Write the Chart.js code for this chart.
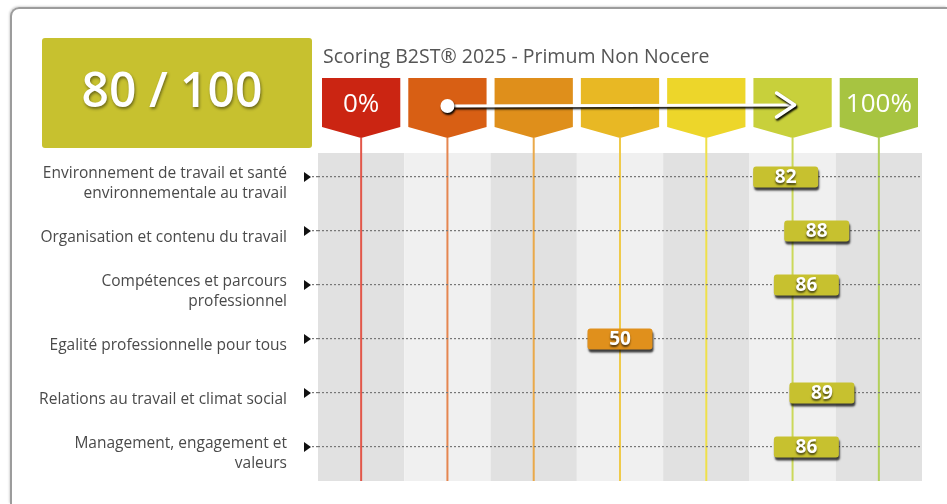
<!DOCTYPE html>
<html>
<head>
<meta charset="utf-8">
<script src="https://cdn.jsdelivr.net/npm/chart.js@4.4.0/dist/chart.umd.min.js"></script>
<style>
html, body { margin: 0; padding: 0; background: #fff; overflow: hidden; }
#frame { position: absolute; left: 10px; top: 7px; right: 0; bottom: 0; border: 2px solid #9c9c9c; border-right: none; border-bottom: none; border-top-left-radius: 9px; box-shadow: -1px -1px 2px rgba(0,0,0,.15); }
#score-chart { position: absolute; left: 0; top: 0; }
</style>
</head>
<body>
<div id="frame"></div>
<canvas id="score-chart" width="947" height="504"></canvas>
<script>
const chartTitle = 'Scoring B2ST® 2025 - Primum Non Nocere';
const overallScore = 80;
const maxScore = 100;
const categories = [
    ['Environnement de travail et santé', 'environnementale au travail'],
    'Organisation et contenu du travail',
    ['Compétences et parcours', 'professionnel'],
    'Egalité professionnelle pour tous',
    'Relations au travail et climat social',
    ['Management, engagement et', 'valeurs']
];
const scores = [82, 88, 86, 50, 89, 86];
const bandLabels = ['0%', '', '', '', '', '', '100%'];

// header and line colours, red -> green
const headerColors = ['#cb2512', '#d85f14', '#df8f1b', '#e8b824', '#edd62a', '#c8d03b', '#a7c441'];
const lineColors = ['#e2574a', '#e58650', '#eaa94a', '#efca4a', '#efe04a', '#cbd85a', '#b2d05a'];
const FONT = 'Open Sans';
const bandStep = 100 / (bandLabels.length - 1);

function scoreColor(v) {
    return v >= 60 ? '#c7c12f' : '#e0901c';
}

function roundRect(ctx, x, y, w, h, r) {
    ctx.beginPath();
    ctx.moveTo(x + r, y);
    ctx.lineTo(x + w - r, y);
    ctx.quadraticCurveTo(x + w, y, x + w, y + r);
    ctx.lineTo(x + w, y + h - r);
    ctx.quadraticCurveTo(x + w, y + h, x + w - r, y + h);
    ctx.lineTo(x + r, y + h);
    ctx.quadraticCurveTo(x, y + h, x, y + h - r);
    ctx.lineTo(x, y + r);
    ctx.quadraticCurveTo(x, y, x + r, y);
    ctx.closePath();
}

const scoringPlugin = {
    id: 'scoring',
    beforeDraw(chart) {
        const { ctx, chartArea: area, scales: { x } } = chart;
        ctx.save();

        // big score box
        ctx.fillStyle = scoreColor(overallScore);
        roundRect(ctx, 42, 38, 270, 110, 3);
        ctx.fill();
        ctx.font = '600 48px "' + FONT + '"';
        ctx.fillStyle = '#fff';
        ctx.textAlign = 'center';
        ctx.textBaseline = 'middle';
        ctx.shadowColor = 'rgba(0,0,0,0.45)';
        ctx.shadowBlur = 3;
        ctx.shadowOffsetX = 1;
        ctx.shadowOffsetY = 2;
        ctx.fillText(overallScore + ' / ' + maxScore, 172, 93);
        ctx.shadowColor = 'transparent';

        // title
        ctx.font = '19.5px "' + FONT + '"';
        ctx.fillStyle = '#555';
        ctx.textAlign = 'left';
        ctx.fillText(chartTitle, 323, 57);

        const half = (x.getPixelForValue(bandStep) - x.getPixelForValue(0)) / 2;

        // stripes
        bandLabels.forEach((_, i) => {
            const cx = x.getPixelForValue(i * bandStep);
            ctx.fillStyle = i % 2 ? '#f0f0f0' : '#e1e1e1';
            ctx.fillRect(cx - half, area.top + 3, half * 2, area.bottom + 7 - area.top - 3);
        });

        // vertical lines and headers
        bandLabels.forEach((_, i) => {
            const cx = x.getPixelForValue(i * bandStep);
            ctx.strokeStyle = lineColors[i];
            ctx.lineWidth = 2;
            ctx.beginPath();
            ctx.moveTo(cx, area.top - 12);
            ctx.lineTo(cx, area.bottom + 7);
            ctx.stroke();

            const hw = half - 4;
            ctx.fillStyle = headerColors[i];
            ctx.beginPath();
            ctx.moveTo(cx - hw, area.top - 72);
            ctx.lineTo(cx + hw, area.top - 72);
            ctx.lineTo(cx + hw, area.top - 23);
            ctx.lineTo(cx, area.top - 12);
            ctx.lineTo(cx - hw, area.top - 23);
            ctx.closePath();
            ctx.fill();
        });

        // arrow across the headers
        const ay = area.top - 44;
        const x0 = x.getPixelForValue(bandStep);
        const x1 = x.getPixelForValue(5 * bandStep) + 2;
        ctx.shadowColor = 'rgba(0,0,0,0.95)';
        ctx.shadowBlur = 2;
        ctx.shadowOffsetX = 1;
        ctx.shadowOffsetY = 2;
        ctx.strokeStyle = '#fff';
        ctx.lineWidth = 3;
        ctx.lineCap = 'round';
        ctx.lineJoin = 'round';
        ctx.beginPath();
        ctx.moveTo(x0, ay);
        ctx.lineTo(x1, ay - 1);
        ctx.stroke();
        ctx.lineWidth = 3.5;
        ctx.beginPath();
        ctx.moveTo(x1 - 18, ay - 13);
        ctx.lineTo(x1, ay - 1);
        ctx.lineTo(x1 - 18, ay + 11);
        ctx.stroke();
        ctx.fillStyle = '#fff';
        ctx.beginPath();
        ctx.arc(x0, ay, 7, 0, Math.PI * 2);
        ctx.fill();
        ctx.restore();
    },
    afterDatasetsDraw(chart) {
        const { ctx, chartArea: area, scales: { y } } = chart;
        ctx.save();
        // row markers
        ctx.fillStyle = '#111';
        categories.forEach((_, i) => {
            const py = y.getPixelForValue(i);
            ctx.beginPath();
            ctx.moveTo(area.left - 14, py - 5);
            ctx.lineTo(area.left - 7, py);
            ctx.lineTo(area.left - 14, py + 5);
            ctx.closePath();
            ctx.fill();
        });
        // score badges
        const meta = chart.getDatasetMeta(0);
        meta.data.forEach((pt, i) => {
            const w = 65, h = 21;
            ctx.shadowColor = 'rgba(0,0,0,0.75)';
            ctx.shadowBlur = 2;
            ctx.shadowOffsetX = 1;
            ctx.shadowOffsetY = 3;
            ctx.fillStyle = scoreColor(scores[i]);
            roundRect(ctx, pt.x - w / 2, pt.y - h / 2, w, h, 3);
            ctx.fill();
            ctx.shadowColor = 'rgba(0,0,0,0.65)';
            ctx.shadowBlur = 2;
            ctx.shadowOffsetX = 0;
            ctx.shadowOffsetY = 1.5;
            ctx.fillStyle = '#fff';
            ctx.font = 'bold 19px "' + FONT + '"';
            ctx.textAlign = 'center';
            ctx.textBaseline = 'middle';
            ctx.fillText(String(scores[i]), pt.x, pt.y + 1);
        });
        ctx.restore();
    }
};

const ctx = document.getElementById('score-chart').getContext('2d');
const chart = new Chart(ctx, {
    type: 'line',
    data: {
        labels: categories,
        datasets: [{
            data: scores,
            showLine: false,
            pointRadius: 0,
            pointHoverRadius: 0
        }]
    },
    options: {
        responsive: false,
        animation: false,
        devicePixelRatio: 1,
        indexAxis: 'y',
        layout: { padding: { left: 0, right: 25, top: 0, bottom: 30 } },
        plugins: {
            legend: { display: false },
            tooltip: { enabled: false }
        },
        scales: {
            x: {
                type: 'linear',
                position: 'top',
                min: -bandStep / 2,
                max: 100 + bandStep / 2,
                afterBuildTicks: s => { s.ticks = bandLabels.map((_, i) => ({ value: i * bandStep })); },
                afterFit: s => { s.height = 150; s.paddingLeft = 0; s.paddingRight = 0; },
                grid: { display: false },
                border: { display: false },
                ticks: {
                    autoSkip: false,
                    maxRotation: 0,
                    padding: 22,
                    color: '#fff',
                    font: { family: FONT, size: 26 },
                    callback: (v, i) => bandLabels[i]
                }
            },
            y: {
                type: 'category',
                offset: true,
                afterFit: s => { s.width = 318; s.paddingTop = 0; s.paddingBottom = 0; },
                grid: { offset: false, color: '#777', lineWidth: 1.2, tickLength: 6, tickColor: '#777', tickBorderDash: [2, 2] },
                border: { display: false, dash: [2, 2] },
                ticks: {
                    padding: 25,
                    labelOffset: 7,
                    color: '#4a4a4a',
                    font: { family: FONT, size: 15.5, lineHeight: 1.3 }
                }
            }
        }
    },
    plugins: [scoringPlugin]
});
</script>
</body>
</html>
